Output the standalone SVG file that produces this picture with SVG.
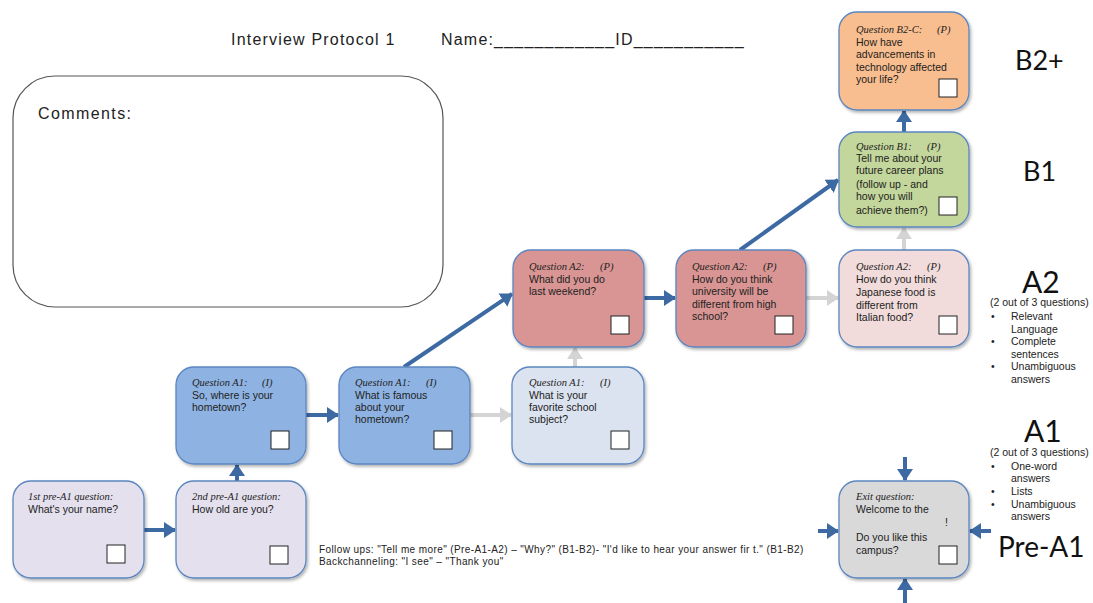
<svg xmlns="http://www.w3.org/2000/svg" width="1093" height="603" viewBox="0 0 1093 603">
<defs>
<style>
.box{stroke:#5b86c0;stroke-width:1.3}
.pre{fill:#e4e0ee}.a1{fill:#8eb3e3}.a1l{fill:#dbe3f0}.a2{fill:#d99594}.a2l{fill:#f1dcdb}.b1{fill:#c3d69b}.b2{fill:#f9be8f}.ex{fill:#d9d9d9}
.chk{fill:#fff;stroke:#222;stroke-width:1}
.lbl{font-family:"Liberation Serif",serif;font-style:italic;font-size:10.5px;fill:#222}
.txt{font-family:"Liberation Sans",Arial,sans-serif;font-size:10.5px;fill:#222}
.hdr{font-family:"Liberation Sans",Arial,sans-serif;font-size:16px;fill:#222;letter-spacing:1.2px}
.lvl{font-family:Lato,"Open Sans",sans-serif;fill:#111}
.small{font-family:"Liberation Sans",Arial,sans-serif;font-size:10.5px;fill:#222}
.fu{font-family:"Liberation Sans",Arial,sans-serif;font-size:10px;fill:#222;letter-spacing:0.4px}
.blue{stroke:#3d6aa3;stroke-width:4;fill:none}
.gray{stroke:#d4d4d4;stroke-width:4;fill:none}
</style>
<marker id="hb" markerUnits="userSpaceOnUse" markerWidth="14" markerHeight="16" refX="11" refY="8" orient="auto"><path d="M0,0 L12,8 L0,16 Z" fill="#3d6aa3"/></marker>
<marker id="hg" markerUnits="userSpaceOnUse" markerWidth="14" markerHeight="16" refX="11" refY="8" orient="auto"><path d="M0,0 L12,8 L0,16 Z" fill="#d4d4d4"/></marker>
<filter id="sh" x="-10%" y="-10%" width="130%" height="130%"><feDropShadow dx="1.5" dy="2" stdDeviation="1.5" flood-color="#000" flood-opacity="0.3"/></filter>
</defs>
<rect width="1093" height="603" fill="#fff"/>

<g id="header">
<text class="hdr" x="231" y="45">Interview Protocol 1</text>
<text class="hdr" x="441" y="45">Name:____________ID___________</text>
</g>

<g id="comments">
<rect x="13" y="76" width="430" height="231" rx="42" fill="#fff" stroke="#555" stroke-width="1.2"/>
<text class="hdr" x="38" y="119" style="letter-spacing:1.4px">Comments:</text>
</g>

<g id="connectors">
<line class="blue" x1="144" y1="530" x2="175" y2="530" marker-end="url(#hb)"/>
<line class="blue" x1="237" y1="481" x2="237" y2="465" marker-end="url(#hb)"/>
<line class="blue" x1="306" y1="415" x2="338" y2="415" marker-end="url(#hb)"/>
<line class="gray" x1="470" y1="415" x2="511" y2="415" marker-end="url(#hg)"/>
<line class="gray" x1="575" y1="367" x2="575" y2="348" marker-end="url(#hg)"/>
<line class="blue" x1="404" y1="367" x2="512" y2="294" marker-end="url(#hb)"/>
<line class="blue" x1="644" y1="298" x2="675" y2="298" marker-end="url(#hb)"/>
<line class="gray" x1="806" y1="298" x2="838" y2="298" marker-end="url(#hg)"/>
<line class="blue" x1="740" y1="250" x2="838" y2="180" marker-end="url(#hb)"/>
<line class="gray" x1="904" y1="250" x2="904" y2="228" marker-end="url(#hg)"/>
<line class="blue" x1="904" y1="132" x2="904" y2="111" marker-end="url(#hb)"/>
<line class="blue" x1="905" y1="457" x2="905" y2="480" marker-end="url(#hb)"/>
<line class="blue" x1="818" y1="531" x2="838" y2="531" marker-end="url(#hb)"/>
<line class="blue" x1="991" y1="531" x2="970" y2="531" marker-end="url(#hb)"/>
<line class="blue" x1="905" y1="603" x2="905" y2="579" marker-end="url(#hb)"/>
</g>

<g id="preA1-1">
<rect class="box pre" filter="url(#sh)" x="13" y="481" width="131" height="97" rx="18"/>
<text class="lbl" x="28" y="500">1st pre-A1 question:</text>
<text class="txt" x="28" y="513">What's your name?</text>
<rect class="chk" x="107" y="545" width="18" height="18"/>
</g>

<g id="preA1-2">
<rect class="box pre" filter="url(#sh)" x="176" y="481" width="130" height="97" rx="18"/>
<text class="lbl" x="192" y="500">2nd pre-A1 question:</text>
<text class="txt" x="192" y="513">How old are you?</text>
<rect class="chk" x="270" y="546" width="18" height="18"/>
</g>

<g id="A1-1">
<rect class="box a1" filter="url(#sh)" x="176" y="367" width="130" height="97" rx="18"/>
<text class="lbl" x="192" y="386">Question A1:<tspan x="262">(I)</tspan></text>
<text class="txt" x="192" y="399">So, where is your</text>
<text class="txt" x="192" y="411">hometown?</text>
<rect class="chk" x="271" y="431" width="18" height="18"/>
</g>

<g id="A1-2">
<rect class="box a1" filter="url(#sh)" x="339" y="367" width="131" height="97" rx="18"/>
<text class="lbl" x="355" y="386">Question A1:<tspan x="426">(I)</tspan></text>
<text class="txt" x="355" y="399">What is famous</text>
<text class="txt" x="355" y="411">about your</text>
<text class="txt" x="355" y="423">hometown?</text>
<rect class="chk" x="434" y="431" width="18" height="18"/>
</g>

<g id="A1-3">
<rect class="box a1l" filter="url(#sh)" x="512" y="367" width="132" height="97" rx="18"/>
<text class="lbl" x="529" y="386">Question A1:<tspan x="600">(I)</tspan></text>
<text class="txt" x="529" y="399">What is your</text>
<text class="txt" x="529" y="411">favorite school</text>
<text class="txt" x="529" y="423">subject?</text>
<rect class="chk" x="611" y="431" width="18" height="18"/>
</g>

<g id="A2-1">
<rect class="box a2" filter="url(#sh)" x="513" y="250" width="131" height="97" rx="18"/>
<text class="lbl" x="529" y="270">Question A2:<tspan x="600">(P)</tspan></text>
<text class="txt" x="529" y="283">What did you do</text>
<text class="txt" x="529" y="295">last weekend?</text>
<rect class="chk" x="611" y="316" width="18" height="18"/>
</g>

<g id="A2-2">
<rect class="box a2" filter="url(#sh)" x="676" y="250" width="130" height="97" rx="18"/>
<text class="lbl" x="692" y="270">Question A2:<tspan x="763">(P)</tspan></text>
<text class="txt" x="692" y="283">How do you think</text>
<text class="txt" x="692" y="295">university will be</text>
<text class="txt" x="692" y="308">different from high</text>
<text class="txt" x="692" y="320">school?</text>
<rect class="chk" x="775" y="316" width="18" height="18"/>
</g>

<g id="A2-3">
<rect class="box a2l" filter="url(#sh)" x="839" y="250" width="130" height="97" rx="18"/>
<text class="lbl" x="856" y="270">Question A2:<tspan x="927">(P)</tspan></text>
<text class="txt" x="856" y="283">How do you think</text>
<text class="txt" x="856" y="296">Japanese food is</text>
<text class="txt" x="856" y="309">different from</text>
<text class="txt" x="856" y="321">Italian food?</text>
<rect class="chk" x="939" y="316" width="18" height="18"/>
</g>

<g id="B1">
<rect class="box b1" filter="url(#sh)" x="839" y="132" width="130" height="95" rx="18"/>
<text class="lbl" x="856" y="150">Question B1:<tspan x="927">(P)</tspan></text>
<text class="txt" x="856" y="162">Tell me about your</text>
<text class="txt" x="856" y="174">future career plans</text>
<text class="txt" x="856" y="188">(follow up - and</text>
<text class="txt" x="856" y="200">how you will</text>
<text class="txt" x="856" y="214">achieve them?)</text>
<rect class="chk" x="939" y="197" width="18" height="18"/>
</g>

<g id="B2C">
<rect class="box b2" filter="url(#sh)" x="839" y="12" width="130" height="98" rx="18"/>
<text class="lbl" x="856" y="33">Question B2-C:<tspan x="937">(P)</tspan></text>
<text class="txt" x="856" y="46">How have</text>
<text class="txt" x="856" y="58">advancements in</text>
<text class="txt" x="856" y="71">technology affected</text>
<text class="txt" x="856" y="83">your life?</text>
<rect class="chk" x="939" y="79" width="18" height="18"/>
</g>

<g id="exit">
<rect class="box ex" filter="url(#sh)" x="839" y="481" width="130" height="97" rx="18"/>
<text class="lbl" x="856" y="500">Exit question:</text>
<text class="txt" x="856" y="513">Welcome to the</text>
<text class="txt" x="945" y="526" font-size="8">!</text>
<text class="txt" x="856" y="541">Do you like this</text>
<text class="txt" x="856" y="554">campus?</text>
<rect class="chk" x="939" y="546" width="18" height="18"/>
</g>

<g id="followups">
<text class="fu" x="319" y="553">Follow ups: "Tell me more" (Pre-A1-A2) – "Why?" (B1-B2)- "I'd like to hear your answer fir  t." (B1-B2)</text>
<text class="fu" x="319" y="565">Backchanneling: "I see" – "Thank you"</text>
</g>

<g id="levels">
<text class="lvl" x="1015" y="70" font-size="27">B2+</text>
<text class="lvl" x="1023" y="181" font-size="27">B1</text>
<text class="lvl" x="1022" y="293" font-size="30">A2</text>
<text class="small" x="990" y="306">(2 out of 3 questions)</text>
<text class="small" x="991" y="320">•</text>
<text class="small" x="1011" y="320">Relevant</text>
<text class="small" x="1011" y="333">Language</text>
<text class="small" x="991" y="345">•</text>
<text class="small" x="1011" y="345">Complete</text>
<text class="small" x="1011" y="358">sentences</text>
<text class="small" x="991" y="370">•</text>
<text class="small" x="1011" y="370">Unambiguous</text>
<text class="small" x="1011" y="383">answers</text>
<text class="lvl" x="1024" y="442" font-size="30">A1</text>
<text class="small" x="990" y="456">(2 out of 3 questions)</text>
<text class="small" x="991" y="470">•</text>
<text class="small" x="1011" y="470">One-word</text>
<text class="small" x="1011" y="482">answers</text>
<text class="small" x="991" y="495">•</text>
<text class="small" x="1011" y="495">Lists</text>
<text class="small" x="991" y="508">•</text>
<text class="small" x="1011" y="508">Unambiguous</text>
<text class="small" x="1011" y="520">answers</text>
<text class="lvl" x="998" y="557" font-size="28">Pre-A1</text>
</g>
</svg>
